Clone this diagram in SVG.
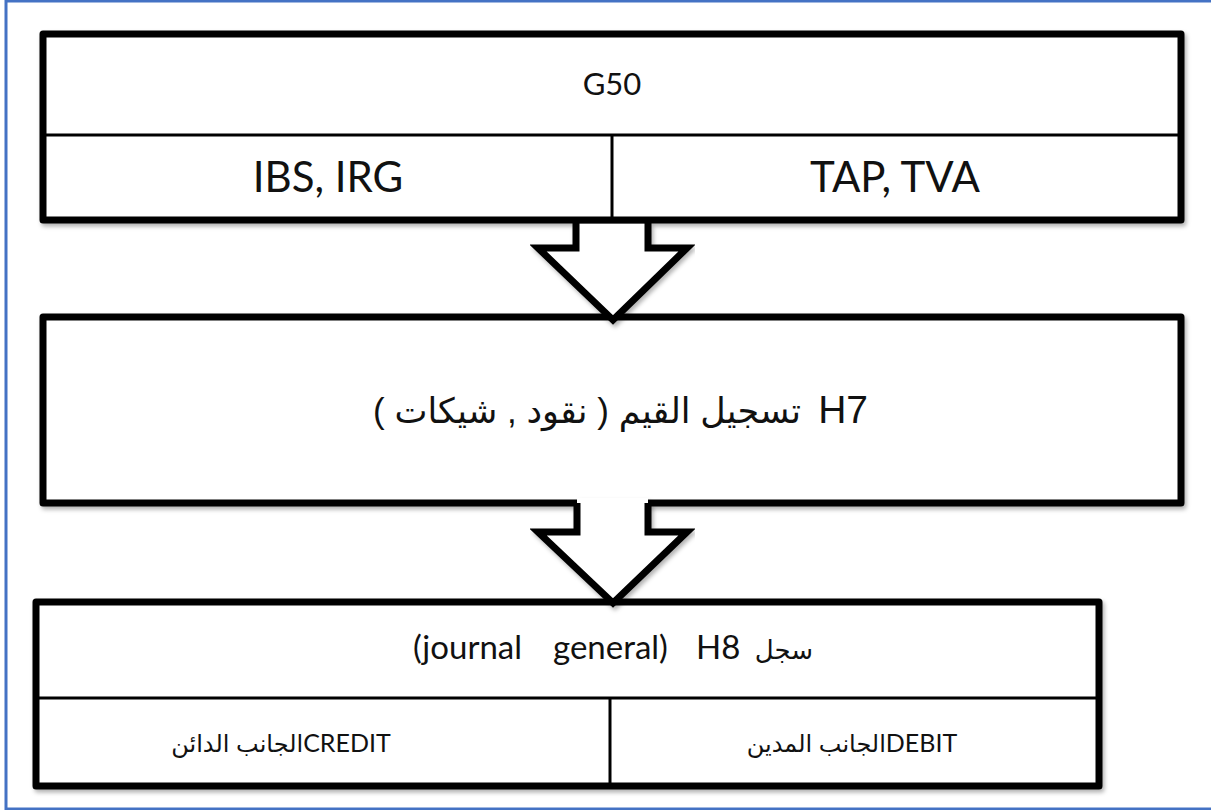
<svg xmlns="http://www.w3.org/2000/svg" width="1211" height="810" viewBox="0 0 1211 810">
  <style>
    .frame { fill: none; stroke: #4472C4; stroke-width: 3; }
    .box { fill: #ffffff; stroke: #000000; stroke-width: 7; stroke-linejoin: round; }
    .div { stroke: #000000; stroke-width: 3; fill: none; }
    .arrow-fill { fill: #ffffff; stroke: none; }
    .arrow-line { fill: none; stroke: #000000; stroke-width: 7; stroke-linejoin: miter; }
    .lat { font-family: Lato, "Open Sans", "DejaVu Sans", sans-serif; fill: #111111; }
    .ar { font-family: "Liberation Sans", "DejaVu Sans", sans-serif; fill: #111111; }
  </style>
  <defs>
    <filter id="shadow" x="-5%" y="-10%" width="110%" height="125%">
      <feDropShadow dx="2" dy="3" stdDeviation="2" flood-color="#000000" flood-opacity="0.3"/>
    </filter>
  </defs>

  <rect x="0" y="0" width="1211" height="810" fill="#ffffff"/>
  <rect class="frame" x="6" y="1" width="1210" height="808"/>

  <!-- G50 tax return box -->
  <g id="g50">
    <rect class="box" x="43" y="34" width="1138" height="186" filter="url(#shadow)"/>
    <line class="div" x1="46" y1="135" x2="1178" y2="135"/>
    <line class="div" x1="612" y1="135" x2="612" y2="220"/>
    <text class="lat" x="612" y="95" font-size="31" text-anchor="middle">G50</text>
    <text class="lat" x="328" y="192" font-size="42" text-anchor="middle">IBS, IRG</text>
    <text class="lat" x="895" y="192" font-size="42" text-anchor="middle">TAP, TVA</text>
  </g>

  <!-- H7 recording box -->
  <g id="h7">
    <rect class="box" x="43" y="317" width="1138" height="186" filter="url(#shadow)"/>
    <text class="ar" x="868" y="423" font-size="39" text-anchor="end">H7</text>
    <text class="ar" x="587" y="423" font-size="35" direction="rtl" text-anchor="middle">تسجيل القيم ( نقود , شيكات )</text>
  </g>

  <!-- H8 general journal box -->
  <g id="h8">
    <rect class="box" x="36" y="602" width="1063" height="184" filter="url(#shadow)"/>
    <line class="div" x1="39" y1="698" x2="1096" y2="698"/>
    <line class="div" x1="610" y1="698" x2="610" y2="783"/>
    <text class="lat" y="659" font-size="33"><tspan x="413">(journal</tspan><tspan x="553">general)</tspan><tspan x="696">H8</tspan></text>
    <text class="ar" x="813" y="659" font-size="26" text-anchor="end">سجل</text>
    <text class="lat" x="281" y="752" font-size="25" text-anchor="middle"><tspan class="ar" font-size="24">الجانب الدائن</tspan>CREDIT</text>
    <text class="lat" x="852" y="752" font-size="25" text-anchor="middle"><tspan class="ar" font-size="24">الجانب المدين</tspan>DEBIT</text>
  </g>

  <!-- block arrows between the boxes -->
  <g id="connectors">
    <g id="arrow1" filter="url(#shadow)">
      <path class="arrow-fill" d="M576,224 V248 H538 L613,320 L687,248 H648 V224 Z"/>
      <path class="arrow-line" d="M576,223 V248 H538 L613,320 L687,248 H648 V223"/>
    </g>
    <g id="arrow2" filter="url(#shadow)">
      <path class="arrow-fill" d="M577,498 V532 H538 L613,603 L687,532 H648 V498 Z"/>
      <path class="arrow-line" d="M577,503 V532 H538 L613,603 L687,532 H648 V503"/>
    </g>
  </g>
</svg>
